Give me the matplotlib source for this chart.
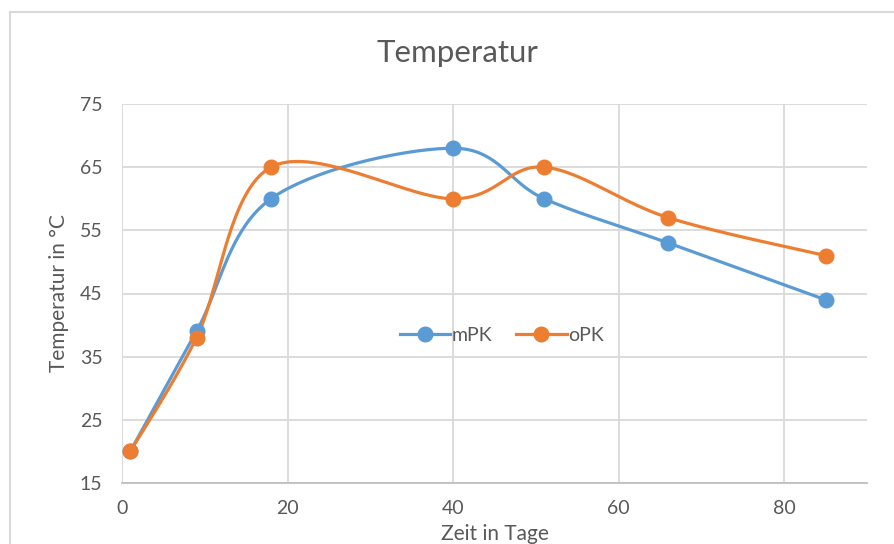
import numpy as np
import matplotlib
matplotlib.use("Agg")
from matplotlib import pyplot as plt
from matplotlib.patches import Rectangle

# data
days = [1, 9, 18, 40, 51, 66, 85]
mpk = [20, 39, 60, 68, 60, 53, 44]
opk = [20, 38, 65, 60, 65, 57, 51]
series_names = ["mPK", "oPK"]
x_ticks = [0, 20, 40, 60, 80]
y_ticks = [15, 25, 35, 45, 55, 65, 75]

BLUE = "#5B9BD5"
ORANGE = "#ED7D31"
GRID = "#D9D9D9"
TEXT = "#595959"


def smooth(xs, ys, sx, sy, n=40):
    # excel-like smoothed line: cardinal bezier computed in (scaled) screen space
    p = np.column_stack([np.array(xs, float) * sx, np.array(ys, float) * sy])
    out = [p[0]]
    for i in range(len(p) - 1):
        p0 = p[i - 1] if i > 0 else p[i]
        p1 = p[i]
        p2 = p[i + 1]
        p3 = p[i + 2] if i + 2 < len(p) else p[i + 1]
        c1 = p1 + (p2 - p0) / 6.0
        c2 = p2 - (p3 - p1) / 6.0
        t = np.linspace(0, 1, n)[1:, None]
        seg = ((1 - t) ** 3) * p1 + 3 * ((1 - t) ** 2) * t * c1 + 3 * (1 - t) * t ** 2 * c2 + t ** 3 * p2
        out.extend(seg)
    out = np.array(out)
    return out[:, 0] / sx, out[:, 1] / sy


def _main():
    plt.rcParams['font.family'] = ['Lato', 'DejaVu Sans']

    fig = plt.figure(figsize=(8.94, 5.44), dpi=100)
    fig.patches.append(Rectangle((10 / 894, -0.1), 1.0, 1 - 12 / 544 + 0.1, transform=fig.transFigure,
                                 fill=False, edgecolor=GRID, linewidth=1.5))

    ax = fig.add_axes([122 / 894, 1 - 483 / 544, 745 / 894, 379 / 544])

    # pixel scale per data unit, used to smooth in screen space
    sx = 745 / 90.0
    sy = 379 / 60.0

    for ys, col, name in [(mpk, BLUE, series_names[0]), (opk, ORANGE, series_names[1])]:
        xs_s, ys_s = smooth(days, ys, sx, sy)
        ax.plot(xs_s, ys_s, color=col, linewidth=2.3, solid_capstyle='round', zorder=3)
        ax.plot(days, ys, linestyle='none', marker='o', markersize=10.5, color=col, zorder=4)
        ax.plot([], [], color=col, linewidth=2.3, marker='o', markersize=10.5, label=name)

    ax.set_xlim(0, 90)
    ax.set_ylim(15, 75)
    ax.set_xticks(x_ticks)
    ax.set_yticks(y_ticks)
    ax.grid(True, color=GRID, linewidth=1.3)
    ax.set_axisbelow(True)
    for s in ['top', 'right', 'left']:
        ax.spines[s].set_visible(False)
    ax.spines['bottom'].set_color("#BFBFBF")
    ax.spines['bottom'].set_linewidth(1.3)
    ax.tick_params(length=0, labelsize=14, labelcolor=TEXT)
    ax.tick_params(axis='y', pad=14)
    ax.tick_params(axis='x', pad=12)

    fig.text(457 / 894, 1 - 53 / 544, "Temperatur", fontsize=22.5, color=TEXT, ha='center', va='center')
    ax.set_ylabel("Temperatur in °C", fontsize=15, color=TEXT, labelpad=8)
    ax.set_xlabel("Zeit in Tage", fontsize=15, color=TEXT, labelpad=5)

    ax.legend(loc='center', bbox_to_anchor=(0.51, 0.39), ncol=2, frameon=False, fontsize=14,
              labelcolor=TEXT, handlelength=2.6, handletextpad=0.1, columnspacing=1.2)

    fig.savefig("out.png", dpi=100)


if __name__ == '__main__':
    _main()
